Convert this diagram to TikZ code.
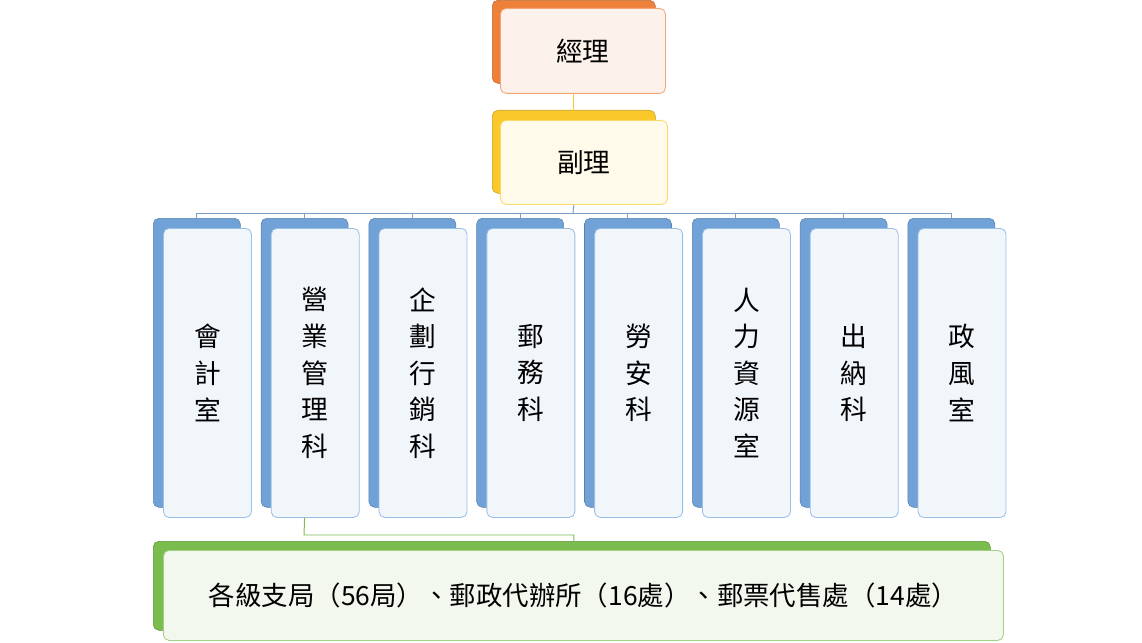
\documentclass[tikz,border=0pt]{standalone}
\usepackage{fontspec}
\newfontfamily\cjk{Noto Sans CJK TC}
\usetikzlibrary{positioning}
\definecolor{orgOrange}{RGB}{238,128,58}
\definecolor{orgYellow}{RGB}{250,200,40}
\definecolor{orgBlue}{RGB}{112,162,216}
\definecolor{orgGreen}{RGB}{122,188,78}
\definecolor{lineBlue}{RGB}{120,160,200}

\tikzset
  {
    backBox/.style={rounded corners=4pt, inner sep=0pt, fill=#1, draw=#1!80!black, line width=0.4pt},
    frontBox/.style={rounded corners=4pt, inner sep=0pt, fill=#1!10!white, draw=#1!70!white, line width=0.6pt, font=\cjk\fontsize{19}{26}\selectfont, align=center},
    orgLine/.style={draw=#1, line width=0.7pt}
  }

\begin{document}
\begin{tikzpicture}[x=0.025cm, y=-0.025cm]

\useasboundingbox (0,0) rectangle (1142,643);

% top boxes
\node[backBox=orgOrange, minimum width=163*0.025cm, minimum height=83*0.025cm, anchor=north west] (jlb) at (492,0) {};
\node[frontBox=orgOrange, minimum width=165*0.025cm, minimum height=85*0.025cm, anchor=north west] (jl) at (500,8) {經理};

\node[backBox=orgYellow, minimum width=163*0.025cm, minimum height=83*0.025cm, anchor=north west] (flb) at (492,110) {};
\node[frontBox=orgYellow, minimum width=167*0.025cm, minimum height=84*0.025cm, anchor=north west] (fl) at (500,120) {副理};

\draw[orgLine=orgYellow] (jl.south -| jlb.south) -- (fl.north -| flb.north);

% columns
\coordinate (bus) at (573,213);
\draw[orgLine=lineBlue] (fl.south -| flb.south) -- (bus);

\foreach \i/\txt in {0/會\\計\\室, 1/營\\業\\管\\理\\科, 2/企\\劃\\行\\銷\\科, 3/郵\\務\\科, 4/勞\\安\\科, 5/人\\力\\資\\源\\室, 6/出\\納\\科, 7/政\\風\\室}
{
\node[backBox=orgBlue, minimum width=87*0.025cm, minimum height=289*0.025cm, anchor=north west] (colb\i) at (153+107.8*\i,218) {};
\node[frontBox=orgBlue, minimum width=88*0.025cm, minimum height=289*0.025cm, anchor=north west] (col\i) at (163+107.8*\i,228) {\txt};
\draw[orgLine=lineBlue] (bus -| colb\i.north) -- (colb\i.north);
}
\draw[orgLine=lineBlue] (bus -| colb0.north) -- (bus -| colb7.north);

% bottom box
\node[backBox=orgGreen, minimum width=837*0.025cm, minimum height=89*0.025cm, anchor=north west] (jsb) at (153,541) {};
\node[frontBox=orgGreen, minimum width=840*0.025cm, minimum height=90*0.025cm, anchor=north west, font=\cjk\fontsize{18.8}{24}\selectfont] (js) at (163,550) {各級支局（56局）、郵政代辦所（16處）、郵票代售處（14處）};

\coordinate (bend) at (304,535);
\draw[orgLine=orgGreen] (col1.south -| colb1.north) -- (bend) -- (bend -| jlb.south) -- (jsb.north -| jlb.south);

\end{tikzpicture}
\end{document}
